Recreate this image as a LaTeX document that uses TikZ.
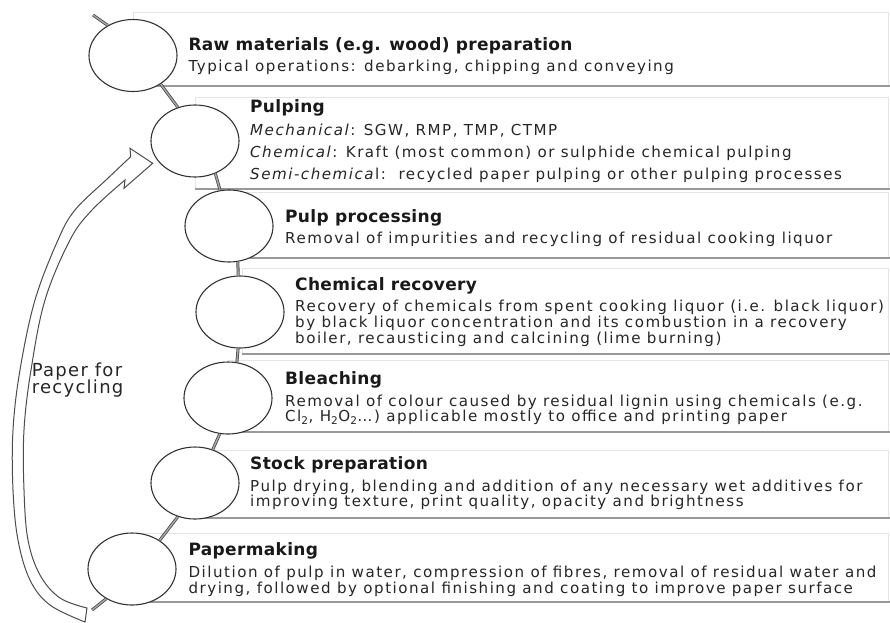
\documentclass[tikz,border=0pt]{standalone}
\usepackage{fontspec}
\setmainfont{DejaVu Sans}
\newfontfamily\bodyfont{DejaVu Sans}[LetterSpace=10]
\newfontfamily\headfont{DejaVu Sans}[LetterSpace=2]
\newfontfamily\lblfont{DejaVu Sans}[LetterSpace=7]
\usetikzlibrary{shapes.geometric}
\begin{document}
\begin{tikzpicture}[x=1pt,y=-1pt,
  stepcirc/.style={ellipse, draw=black!80, line width=1.1pt, fill=white, minimum width=88pt, minimum height=72pt, inner sep=0pt},
  link/.style={draw=black!70, double=black!35, line width=0.8pt, double distance=1.4pt},
  boxbody/.style={draw=black!10, fill=white, line width=0.5pt},
  boxshadow/.style={draw=black!40, line width=1.8pt},
  head/.style={anchor=base west, inner sep=0pt, font=\headfont\fontsize{17}{18}\selectfont\bfseries, text=black!90},
  body/.style={anchor=base west, inner sep=0pt, font=\bodyfont\fontsize{15.1}{16}\selectfont, text=black!85},
  lbl/.style={anchor=base west, inner sep=0pt, font=\lblfont\fontsize{18}{18}\selectfont, text=black!85},
  arrowline/.style={draw=black!70, line width=1pt, fill=white, line join=miter}
]
\useasboundingbox (0,0) rectangle (890,622);
\clip (0,0) rectangle (890,622);
% boxes
\draw[boxbody] (133,12) rectangle (888,85);  \draw[boxshadow] (133,86) -- (900,86);
\draw[boxbody] (195,97) rectangle (888,188); \draw[boxshadow] (195,189) -- (900,189);
\draw[boxbody] (229,192) rectangle (888,257); \draw[boxshadow] (229,258) -- (900,258);
\draw[boxbody] (242,268) rectangle (888,353); \draw[boxshadow] (242,354) -- (900,354);
\draw[boxbody] (228,360) rectangle (888,431); \draw[boxshadow] (228,432) -- (900,432);
\draw[boxbody] (195,450) rectangle (888,517); \draw[boxshadow] (195,518) -- (900,518);
\draw[boxbody] (132,533) rectangle (888,601); \draw[boxshadow] (132,602) -- (900,602);
% circles
\node[stepcirc] (c1) at (133,55.5) {};
\node[stepcirc] (c2) at (195,141) {};
\node[stepcirc] (c3) at (229,226) {};
\node[stepcirc] (c4) at (240,312) {};
\node[stepcirc] (c5) at (228,398) {};
\node[stepcirc] (c6) at (195,483) {};
\node[stepcirc] (c7) at (132,569) {};
\coordinate (topend) at (93,15);
\coordinate (botend) at (92,610);
% connectors
\draw[link] (topend) -- (c1.130);
\draw[link] (c1.-46) -- (c2.117);
\draw[link] (c2.-58) -- (c3.104);
\draw[link] (c3.-76) -- (c4.93);
\draw[link] (c4.267) -- (c5.76);
\draw[link] (c5.257) -- (c6.62);
\draw[link] (c6.243) -- (c7.46);
\draw[link] (c7.229) -- (botend);
% recycling arrow
\coordinate (tip) at (152.7,163.3);
\coordinate (ub) at (130,148.3);
\coordinate (uba) at (130.7,156.7);
\coordinate (lba) at (125,180);
\coordinate (lb) at (124,188.3);
\draw[arrowline] (tip) -- (ub) -- (uba)
  -- plot[smooth, tension=0.6] coordinates {(130.7,156.7) (106,180) (75,210) (58,240) (35,300) (20,370) (13,430) (13,490) (18,540) (30,580) (50,605) (85,622)}
  -- (87,608)
  -- plot[smooth, tension=0.6] coordinates {(87,608) (60,598) (40,575) (28,540) (24,490) (24,430) (31,370) (45,300) (70,240) (92,210) (125,180)}
  -- (lb) -- cycle;
\node[lbl] (l1) at (31.7,376.7) {Paper for};
\node[lbl] (l2) at (31.7,393.3) {recycling};
% texts
\node[head] (h1) at (188.3,50) {Raw materials (e.g. wood) preparation};
\node[body] (b1) at (188.3,71.7) {Typical operations: debarking, chipping and conveying};
\node[head] (h2) at (250,112.7) {Pulping};
\node[body] (b2a) at (250,135) {\textit{Mechanical}: SGW, RMP, TMP, CTMP};
\node[body] (b2b) at (250,157.3) {\textit{Chemical}: Kraft (most common) or sulphide chemical pulping};
\node[body] (b2c) at (250,179.3) {\textit{Semi-chemica}l:\ \ recycled paper pulping or other pulping processes};
\node[head] (h3) at (285,222) {Pulp processing};
\node[body] (b3) at (285,243.3) {Removal of impurities and recycling of residual cooking liquor};
\node[head] (h4) at (295,290) {Chemical recovery};
\node[body] (b4a) at (295,311) {Recovery of chemicals from spent cooking liquor (i.e. black liquor)};
\node[body] (b4b) at (295,327) {by black liquor concentration and its combustion in a recovery};
\node[body] (b4c) at (295,343) {boiler, recausticing and calcining (lime burning)};
\node[head] (h5) at (285,384) {Bleaching};
\node[body] (b5a) at (285,406) {Removal of colour caused by residual lignin using chemicals (e.g.};
\node[body] (b5b) at (285,421.7) {Cl\textsubscript{2}, H\textsubscript{2}O\textsubscript{2}…) applicable mostly to office and printing paper};
\node[head] (h6) at (250,469.3) {Stock preparation};
\node[body] (b6a) at (250,491.7) {Pulp drying, blending and addition of any necessary wet additives for};
\node[body] (b6b) at (250,506.7) {improving texture, print quality, opacity and brightness};
\node[head] (h7) at (188.3,555) {Papermaking};
\node[body] (b7a) at (188.3,577.3) {Dilution of pulp in water, compression of fibres, removal of residual water and};
\node[body] (b7b) at (188.3,593.3) {drying, followed by optional finishing and coating to improve paper surface};
\end{tikzpicture}
\end{document}
